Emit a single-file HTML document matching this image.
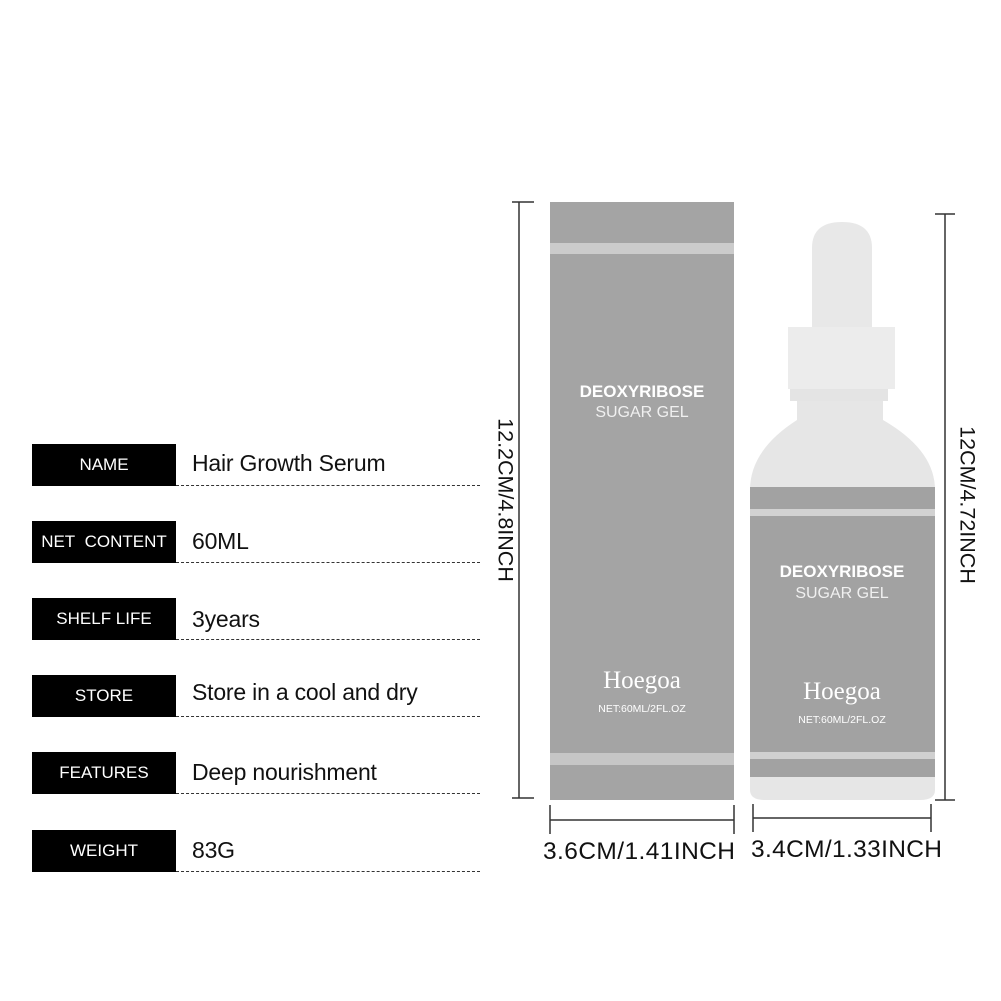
<!DOCTYPE html>
<html><head><style>
body{margin:0;width:1001px;height:1001px;background:#fff;position:relative;overflow:hidden;font-family:"Liberation Sans",sans-serif}
.a{position:absolute}
.lab{position:absolute;left:32px;width:144px;height:42px;background:#000;color:#fff;font-size:17px;display:flex;align-items:center;justify-content:center}
.val{position:absolute;left:192px;font-size:23px;color:#111;letter-spacing:-0.2px}
.dash{position:absolute;left:176px;width:304px;border-top:1.5px dashed #333}
.rot{position:absolute;transform:translate(-50%,-50%) rotate(90deg);font-size:21.5px;white-space:nowrap;color:#111}
</style></head><body>
<div class="lab" style="top:444px">NAME</div><div class="val" style="top:450px">Hair Growth Serum</div><div class="dash" style="top:485px"></div>
<div class="lab" style="top:521px">NET&nbsp; CONTENT</div><div class="val" style="top:528px">60ML</div><div class="dash" style="top:562px"></div>
<div class="lab" style="top:598px">SHELF LIFE</div><div class="val" style="top:606px">3years</div><div class="dash" style="top:639px"></div>
<div class="lab" style="top:675px">STORE</div><div class="val" style="top:679px">Store in a cool and dry</div><div class="dash" style="top:716px"></div>
<div class="lab" style="top:752px">FEATURES</div><div class="val" style="top:759px">Deep nourishment</div><div class="dash" style="top:793px"></div>
<div class="lab" style="top:830px">WEIGHT</div><div class="val" style="top:837px">83G</div><div class="dash" style="top:871px"></div>

<svg class="a" style="left:0;top:0" width="1001" height="1001">
<g stroke="#333" stroke-width="1.5" fill="none">
<line x1="519" y1="202" x2="519" y2="798"/><line x1="512" y1="202" x2="534" y2="202"/><line x1="512" y1="798" x2="534" y2="798"/>
<line x1="945" y1="214" x2="945" y2="800"/><line x1="935" y1="214" x2="955" y2="214"/><line x1="935" y1="800" x2="955" y2="800"/>
<line x1="550" y1="820" x2="734" y2="820"/><line x1="550" y1="805" x2="550" y2="834"/><line x1="734" y1="805" x2="734" y2="834"/>
<line x1="753" y1="818" x2="931" y2="818"/><line x1="753" y1="804" x2="753" y2="832"/><line x1="931" y1="804" x2="931" y2="832"/>
</g>
<rect x="550" y="202" width="184" height="598" fill="#a4a4a4"/>
<rect x="550" y="243" width="184" height="11" fill="#cbcbcb"/>
<rect x="550" y="753" width="184" height="12" fill="#c6c6c6"/>
<path d="M812 248 Q812 222 842 222 Q872 222 872 248 L872 327 L812 327Z" fill="#e8e8e8"/>
<rect x="788" y="327" width="107" height="62" fill="#ececec"/>
<rect x="790" y="389" width="98" height="12" fill="#e4e4e4"/>
<path d="M797 401 L883 401 L883 420 Q935 450 935 490 L935 790 Q935 800 920 800 L765 800 Q750 800 750 790 L750 490 Q750 450 797 420Z" fill="#e6e6e6"/>
<rect x="750" y="487" width="185" height="290" fill="#a2a2a2"/>
<rect x="750" y="509" width="185" height="7" fill="#d2d2d2"/>
<rect x="750" y="752" width="185" height="7" fill="#d0d0d0"/>
<g fill="#fff" text-anchor="middle" font-family="Liberation Sans,sans-serif">
<text x="642" y="397" font-size="17" font-weight="bold">DEOXYRIBOSE</text>
<text x="642" y="417" font-size="16" fill="#f0f0f0">SUGAR GEL</text>
<text x="642" y="688" font-size="25" font-family="Liberation Serif,serif">Hoegoa</text>
<text x="642" y="712" font-size="10.5">NET:60ML/2FL.OZ</text>
<text x="842" y="577" font-size="17" font-weight="bold">DEOXYRIBOSE</text>
<text x="842" y="598" font-size="16" fill="#f0f0f0">SUGAR GEL</text>
<text x="842" y="699" font-size="25" font-family="Liberation Serif,serif">Hoegoa</text>
<text x="842" y="723" font-size="10.5">NET:60ML/2FL.OZ</text>
</g>
<g fill="#111" font-size="24.5" font-family="Liberation Sans,sans-serif">
<text x="543" y="859" textLength="192">3.6CM/1.41INCH</text>
<text x="751" y="857" textLength="191">3.4CM/1.33INCH</text>
</g>
</svg>
<div class="rot" style="left:505px;top:500px">12.2CM/4.8INCH</div>
<div class="rot" style="left:967px;top:505px">12CM/4.72INCH</div>
</body></html>
